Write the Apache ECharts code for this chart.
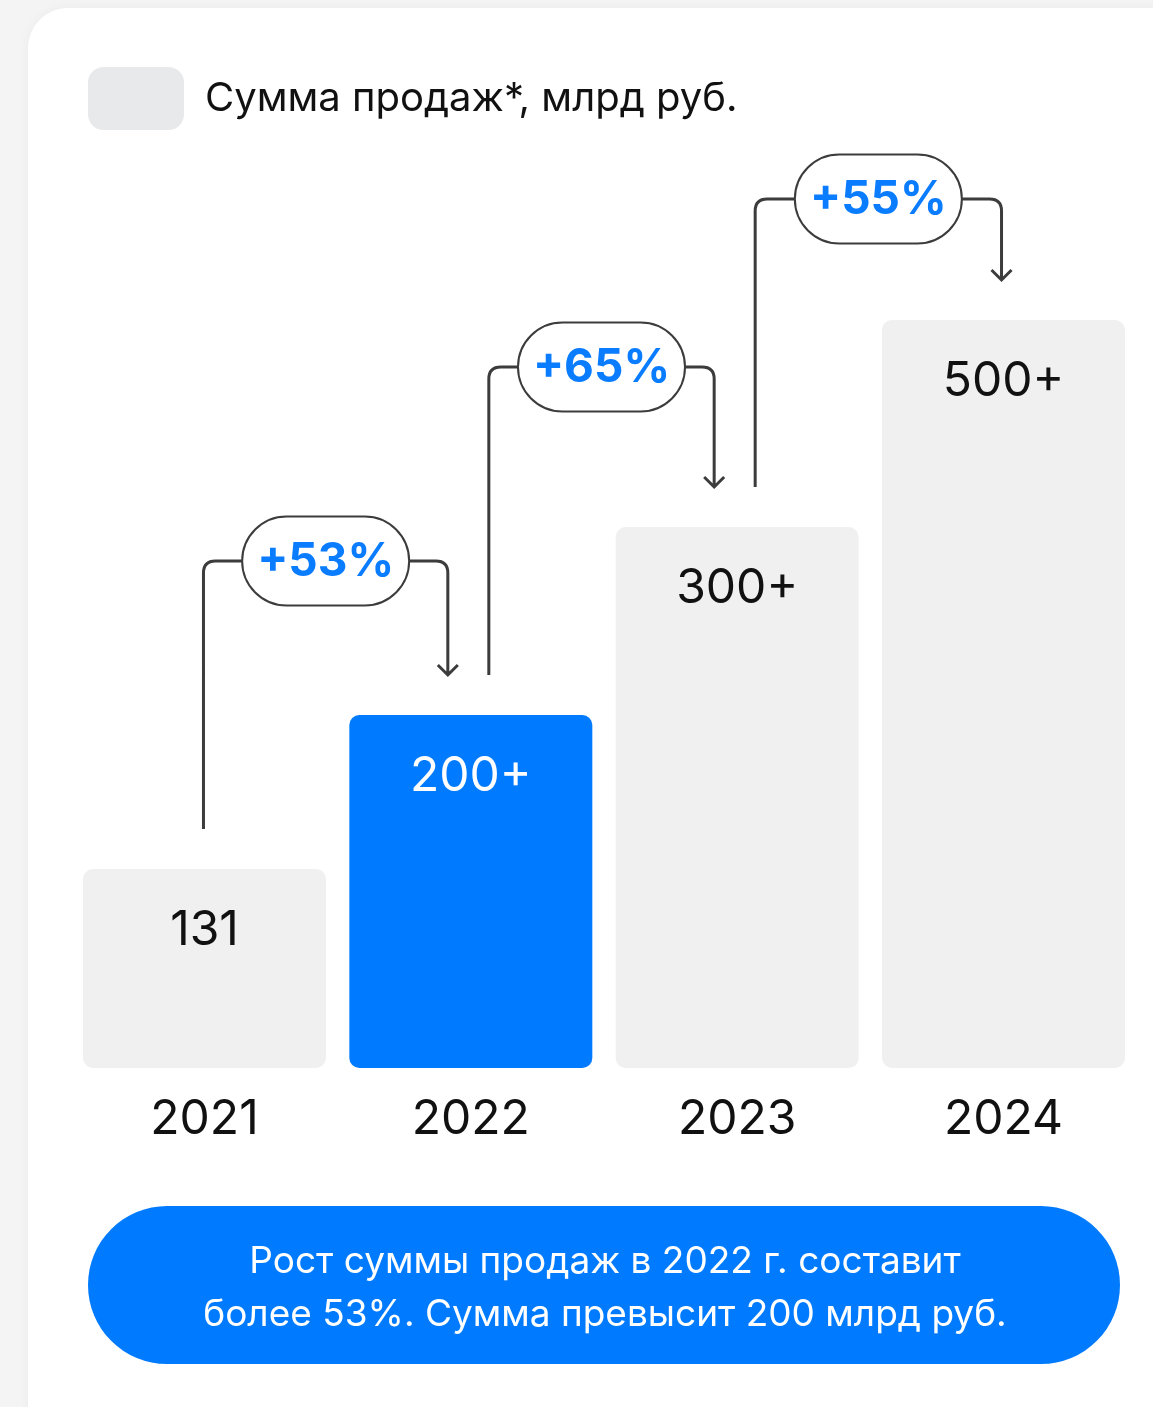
<!DOCTYPE html>
<html>
<head>
<meta charset="utf-8">
<script src="https://cdn.jsdelivr.net/npm/echarts@6/dist/echarts.min.js"></script>
<style>
html,body{margin:0;padding:0;background:#f4f4f4;}
#c{width:1153px;height:1407px;}
</style>
</head>
<body>
<div id="c"></div>
<script>
// ---- data ----
const years = ['2021', '2022', '2023', '2024'];
const barLabels = ['131', '200+', '300+', '500+'];
const barHeights = [199, 353, 541, 748];          // visual bar heights
const growthLabels = ['+53%', '+65%', '+55%'];
const pillLevels = [507, 701, 869];               // vertical level of growth pills
const legendName = 'Сумма продаж*, млрд руб.';
const noteLines = ['Рост суммы продаж в 2022 г. составит', 'более 53%. Сумма превысит 200 млрд руб.'];
const highlightIndex = 1;

const FONT = 'Inter';
const chart = echarts.init(document.getElementById('c'), null, {renderer: 'canvas'});

const lastIdx = years.length - 1;

const option = {
  animation: false,
  backgroundColor: 'transparent',
  graphic: [
    {type: 'rect', z: -10, shape: {x: 28, y: 8, width: 1300, height: 1500, r: 40},
     style: {fill: '#ffffff', shadowBlur: 12, shadowColor: 'rgba(0,0,0,0.04)'}},
    {type: 'rect', z: 10, shape: {x: 88, y: 1206, width: 1032, height: 158, r: 79},
     style: {fill: '#007bff'}},
    {type: 'text', z: 11, x: 605, y: 1288,
     style: {text: noteLines.join('\n'), align: 'center', verticalAlign: 'middle',
             fill: '#ffffff', fontFamily: FONT, fontSize: 37, lineHeight: 53}}
  ],
  legend: {
    left: 88, top: 67, padding: 0,
    itemWidth: 96, itemHeight: 63,
    icon: 'roundRect',
    data: [legendName],
    itemStyle: {color: '#e8e9eb'},
    selectedMode: false,
    textStyle: {fontFamily: FONT, fontSize: 40, color: '#111', padding: [0, 0, 0, 16]}
  },
  grid: {left: 71.3, right: 16.3, top: 68, bottom: 339, containLabel: false},
  xAxis: {
    type: 'category', data: years,
    axisLine: {show: false}, axisTick: {show: false},
    axisLabel: {fontFamily: FONT, fontSize: 48, color: '#111', margin: 28}
  },
  yAxis: {type: 'value', min: 0, max: 1000, show: false, splitLine: {show: false}},
  series: [
    {
      type: 'bar', name: legendName,
      barWidth: 243,
      data: barHeights.map((v, i) => ({
        value: v,
        itemStyle: {color: i === highlightIndex ? '#007bff' : '#f0f0f0'},
        label: {color: i === highlightIndex ? '#ffffff' : '#111'}
      })),
      itemStyle: {color: '#f0f0f0', borderRadius: 10},
      label: {
        show: true, position: 'insideTop', distance: 38,
        fontFamily: FONT, fontSize: 48,
        formatter: p => barLabels[p.dataIndex]
      }
    },
    {
      type: 'custom', clip: false, z: 5,
      data: growthLabels.map((g, i) => [i, barHeights[i], barHeights[i + 1], pillLevels[i]]),
      renderItem: function (params, api) {
        const i = api.value(0);
        const p0 = api.coord([i, api.value(1)]);
        const p1 = api.coord([i + 1, api.value(2)]);
        const py = api.coord([i, api.value(3)])[1];
        const xs = p0[0] + (i === 0 ? -1 : 18);
        const ys = p0[1] - 40;
        const xe = p1[0] + (i + 1 === lastIdx ? -2 : -23);
        const ye = p1[1] - 40;
        const pcx = (xs + xe) / 2;
        const pw = 167, ph = 89;
        const pl = pcx - pw / 2, pr = pcx + pw / 2;
        const r = 12;
        const d = 'M' + xs + ' ' + ys + ' L' + xs + ' ' + (py + r) +
          ' Q' + xs + ' ' + py + ' ' + (xs + r) + ' ' + py + ' L' + pl + ' ' + py +
          ' M' + pr + ' ' + py + ' L' + (xe - r) + ' ' + py +
          ' Q' + xe + ' ' + py + ' ' + xe + ' ' + (py + r) + ' L' + xe + ' ' + ye +
          ' M' + (xe - 10) + ' ' + (ye - 10) + ' L' + xe + ' ' + ye + ' L' + (xe + 10) + ' ' + (ye - 10);
        return {
          type: 'group',
          children: [
            {type: 'path', shape: {pathData: d},
             style: {fill: 'none', stroke: '#3c3c3c', lineWidth: 3}},
            {type: 'rect', shape: {x: pl, y: py - ph / 2, width: pw, height: ph, r: ph / 2},
             style: {fill: '#ffffff', stroke: '#3c3c3c', lineWidth: 2}},
            {type: 'text', x: pcx, y: py + 1,
             style: {text: growthLabels[params.dataIndex], align: 'center', verticalAlign: 'middle',
                     fill: '#0a7cff', fontFamily: FONT, fontWeight: 'bold', fontSize: 46}}
          ]
        };
      }
    }
  ]
};
chart.setOption(option);
</script>
</body>
</html>
